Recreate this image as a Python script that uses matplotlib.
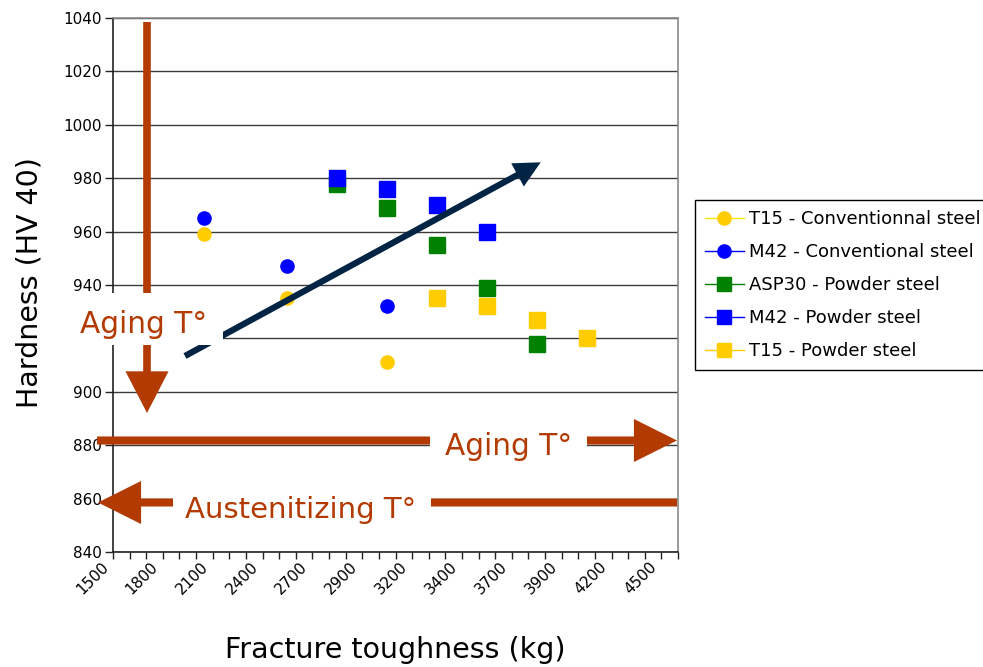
import numpy as np
import matplotlib
matplotlib.use('Agg')
import matplotlib.pyplot as plt
import matplotlib.transforms as mtransforms
from matplotlib.patches import FancyArrowPatch, Rectangle, ArrowStyle
from matplotlib.lines import Line2D
from matplotlib.ticker import FixedLocator, FixedFormatter, MultipleLocator, FuncFormatter

plt.rcParams['font.family'] = ['DejaVu Sans']

# ---------------- data ----------------
tick_labels = [1500, 1800, 2100, 2400, 2700, 2900, 3200, 3400, 3700, 3900, 4200, 4500]
x_max = 4600
hidden_y_label = 920  # covered by the "Aging T°" box in the reference

t15_conv_x = [2050, 2550, 3050]
t15_conv_y = [959, 935, 911]
m42_conv_x = [2050, 2550, 3050]
m42_conv_y = [965, 947, 932]
asp30_x = [2800, 3050, 3300, 3550, 3800]
asp30_y = [978, 969, 955, 939, 918]
m42_pow_x = [2800, 3050, 3300, 3550]
m42_pow_y = [980, 976, 970, 960]
t15_pow_x = [3300, 3550, 3800, 4050]
t15_pow_y = [935, 932, 927, 920]

names = ["T15 - Conventionnal steel", "M42 - Conventional steel",
         "ASP30 - Powder steel", "M42 - Powder steel", "T15 - Powder steel"]

YELLOW = '#FFCC00'
BLUE = '#0000FF'
GREEN = '#008000'
BROWN = '#B33A00'
NAVY = '#022444'

# ---------------- category-like x scale ----------------
bp_val = np.array(tick_labels + [x_max], float)
bp_pos = np.array(list(np.arange(len(tick_labels)) * 3) + [3 * (len(tick_labels) - 1) + 1], float)
ext_val = np.concatenate([[-1e5], bp_val, [1e5]])
ext_pos = np.concatenate([[bp_pos[0] - (bp_val[0] + 1e5) / 100.0], bp_pos,
                          [bp_pos[-1] + (1e5 - bp_val[-1]) / 100.0]])


def fwd(v):
    return np.interp(v, ext_val, ext_pos)


def inv(p):
    return np.interp(p, ext_pos, ext_val)


fig = plt.figure(figsize=(9.83, 6.67), dpi=100)
ax = fig.add_axes([113 / 983, 1 - 552 / 667, 565 / 983, 534 / 667])
ax.set_xscale('function', functions=(fwd, inv))
ax.set_xlim(tick_labels[0], x_max)
ax.set_ylim(840, 1040)

# grid
ax.yaxis.set_major_locator(MultipleLocator(20))
ax.yaxis.set_major_formatter(FuncFormatter(
    lambda v, p: '' if abs(v - hidden_y_label) < 1e-6 else f'{v:.0f}'))
ax.grid(axis='y', color='#3a3a3a', lw=1.0, zorder=0)
ax.grid(axis='x', visible=False)
ax.set_axisbelow(True)

# ticks
ax.xaxis.set_major_locator(FixedLocator(tick_labels))
ax.xaxis.set_major_formatter(FixedFormatter([str(t) for t in tick_labels]))
ax.xaxis.set_minor_locator(FixedLocator(inv(np.arange(int(bp_pos[-1]) + 1))))
ax.tick_params(axis='x', which='both', direction='out', length=5, width=1, color='#222222')
ax.tick_params(axis='x', which='major', labelsize=11, pad=4)
ax.tick_params(axis='y', which='major', direction='out', length=6, width=1, color='#222222',
               labelsize=11, pad=2)
shift = mtransforms.ScaledTranslation(-7 / 100, 0, fig.dpi_scale_trans)
for lab in ax.get_xticklabels():
    lab.set_rotation(45)
    lab.set_ha('right')
    lab.set_va('center')
    lab.set_rotation_mode('anchor')
    lab.set_transform(lab.get_transform() + shift)

for s in ['left', 'bottom']:
    ax.spines[s].set_color('#222222')
    ax.spines[s].set_linewidth(1.2)
for s in ['top', 'right']:
    ax.spines[s].set_color('#8a8a8a')
    ax.spines[s].set_linewidth(1.2)

# data
ms_c = 9.5
ms_s = 12
ax.plot(t15_conv_x, t15_conv_y, 'o', color=YELLOW, ms=ms_c, mec=YELLOW, zorder=3)
ax.plot(m42_conv_x, m42_conv_y, 'o', color=BLUE, ms=ms_c, mec=BLUE, zorder=3)
ax.plot(asp30_x, asp30_y, 's', color=GREEN, ms=ms_s, mec=GREEN, zorder=3)
ax.plot(m42_pow_x, m42_pow_y, 's', color=BLUE, ms=ms_s, mec=BLUE, zorder=3)
ax.plot(t15_pow_x, t15_pow_y, 's', color=YELLOW, ms=ms_s, mec=YELLOW, zorder=3)


# ---------------- annotations (axes fraction) ----------------
def arrow(p0, p1, color, tail, hw, hl, z):
    st = ArrowStyle.Simple(head_length=hl, head_width=hw, tail_width=tail)
    a = FancyArrowPatch(p0, p1, transform=ax.transAxes, arrowstyle=st, mutation_scale=1,
                        color=color, lw=0, shrinkA=0, shrinkB=0, clip_on=False, zorder=z)
    ax.add_artist(a)


def box(x0, y0, x1, y1, z):
    r = Rectangle((x0, y0), x1 - x0, y1 - y0, transform=ax.transAxes, facecolor='white',
                  edgecolor='none', clip_on=False, zorder=z)
    ax.add_artist(r)


# vertical brown arrow
arrow((0.0602, 0.9925), (0.0602, 0.2603), BROWN, 5.5, 31, 30, 5)
# horizontal right arrow (Aging)
arrow((-0.0283, 0.2088), (0.9982, 0.2088), BROWN, 5.8, 31, 31, 5)
# horizontal left arrow (Austenitizing)
arrow((0.9982, 0.0927), (-0.0265, 0.0927), BROWN, 5.8, 31, 31, 5)
# diagonal navy arrow
arrow((0.1274, 0.367), (0.757, 0.7298), NAVY, 4.5, 19, 19, 6)

# white boxes with labels
box(-0.0832, 0.3876, 0.1947, 0.485, 7)
ax.text(0.0549, 0.4101, 'Aging T°', transform=ax.transAxes, color=BROWN, fontsize=21.3,
        ha='center', va='baseline', zorder=8)
box(0.561, 0.1685, 0.839, 0.2472, 7)
ax.text(0.7009, 0.1816, 'Aging T°', transform=ax.transAxes, color=BROWN, fontsize=21.3,
        ha='center', va='baseline', zorder=8)
box(0.1062, 0.0524, 0.5628, 0.133, 7)
ax.text(0.3327, 0.0637, 'Austenitizing T°', transform=ax.transAxes, color=BROWN, fontsize=21,
        ha='center', va='baseline', zorder=8)

# axis titles
fig.text(395.5 / 983, 1 - 650 / 667, 'Fracture toughness (kg)', fontsize=20.5,
         ha='center', va='center')
fig.text(30 / 983, 1 - 283 / 667, 'Hardness (HV 40)', fontsize=20.5, rotation=90,
         ha='center', va='center')

# legend
handles = [
    Line2D([], [], color='#FFE800', lw=1, marker='o', ms=9.5, mfc=YELLOW, mec=YELLOW),
    Line2D([], [], color=BLUE, lw=1, marker='o', ms=9.5, mfc=BLUE, mec=BLUE),
    Line2D([], [], color=GREEN, lw=1, marker='s', ms=9.5, mfc=GREEN, mec=GREEN),
    Line2D([], [], color=BLUE, lw=1, marker='s', ms=9.5, mfc=BLUE, mec=BLUE),
    Line2D([], [], color=YELLOW, lw=1, marker='s', ms=9.5, mfc=YELLOW, mec=YELLOW),
]
leg = fig.legend(handles, names, loc='upper left', bbox_to_anchor=(695 / 983, 1 - 200 / 667),
                 borderaxespad=0, fontsize=13, frameon=True, fancybox=False, framealpha=1,
                 edgecolor='#000000', handlelength=2.15, handletextpad=0.3, borderpad=0.55,
                 labelspacing=0.83)
leg.get_frame().set_linewidth(1.0)

fig.savefig('out.png', dpi=100)
